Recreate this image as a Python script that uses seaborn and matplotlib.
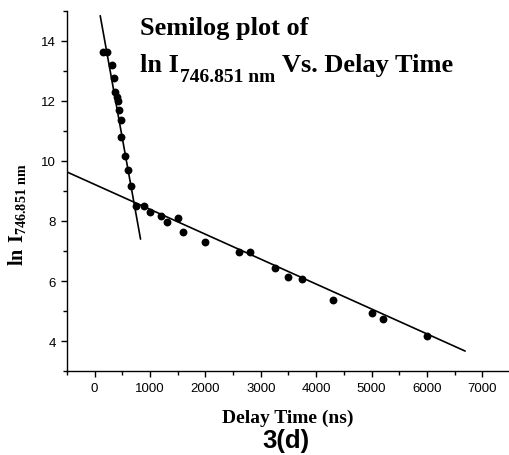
import numpy as np
import pandas as pd
import matplotlib
matplotlib.use("Agg")
import matplotlib.pyplot as plt
from matplotlib.ticker import MultipleLocator
import seaborn as sns

# Data
delay_time = [150, 230, 320, 350, 375, 400, 430, 450, 470, 480, 550, 600, 650,
              750, 900, 1000, 1200, 1300, 1500, 1600, 2000, 2600, 2800, 3250,
              3500, 3750, 4300, 5000, 5200, 6000]
ln_intensity = [13.63, 13.63, 13.18, 12.76, 12.31, 12.14, 12.01, 11.70, 11.37,
                10.81, 10.16, 9.71, 9.16, 8.51, 8.51, 8.29, 8.16, 7.98, 8.09,
                7.62, 7.31, 6.98, 6.96, 6.43, 6.14, 6.07, 5.38, 4.94, 4.72, 4.18]

# Linear fits (slope, intercept) and their drawn x-ranges
fit_slopes = [-0.01022, -0.000830]
fit_intercepts = [15.89, 9.22]
fit_x_ranges = [[103, 831], [-506, 6690]]

x_ticks = [0, 1000, 2000, 3000, 4000, 5000, 6000, 7000]
y_ticks = [4, 6, 8, 10, 12, 14]

sns.set_style("ticks")
plt.rcParams['font.family'] = ['Liberation Sans', 'DejaVu Sans']
plt.rcParams['mathtext.fontset'] = 'custom'
plt.rcParams['mathtext.bf'] = 'Liberation Serif:bold'
plt.rcParams['mathtext.rm'] = 'Liberation Serif:bold'
plt.rcParams['text.color'] = 'black'
plt.rcParams['axes.labelcolor'] = 'black'
plt.rcParams['xtick.color'] = 'black'
plt.rcParams['ytick.color'] = 'black'

W, H = 510, 456
fig = plt.figure(figsize=(W / 100, H / 100), dpi=100)
ax = fig.add_axes([0.131, 0.184, 0.869, 0.790])

df = pd.DataFrame({"t": delay_time, "lnI": ln_intensity})
sns.scatterplot(data=df, x="t", y="lnI", ax=ax, color="black", s=32,
                edgecolor="black", linewidth=0, zorder=3)

for m, b, xr in zip(fit_slopes, fit_intercepts, fit_x_ranges):
    xs = np.array(xr, dtype=float)
    ldf = pd.DataFrame({"t": xs, "lnI": m * xs + b})
    sns.lineplot(data=ldf, x="t", y="lnI", ax=ax, color="black", linewidth=1.2,
                 zorder=2)

ax.set_xlim(-500, 7500)
ax.set_ylim(3, 15)
ax.set_xticks(x_ticks)
ax.set_yticks(y_ticks)
ax.xaxis.set_minor_locator(MultipleLocator(500))
ax.yaxis.set_minor_locator(MultipleLocator(1))
ax.tick_params(which="major", direction="out", length=4.5, width=1.0,
               labelsize=9.5, colors="black")
ax.tick_params(which="minor", direction="out", length=3, width=1.0,
               colors="black")
for sp in ["top", "right"]:
    ax.spines[sp].set_visible(False)
for sp in ["left", "bottom"]:
    ax.spines[sp].set_linewidth(1.0)
    ax.spines[sp].set_color("black")

ax.set_xlabel("")
ax.set_ylabel("")
fig.text(288 / W, 1 - 418 / H, "Delay Time (ns)", fontfamily="Liberation Serif",
         fontweight="bold", fontsize=14, ha="center", va="center",
         color="black")
fig.text(17 / W, 1 - 215 / H, r"$\mathbf{ln\ I_{746.851\ nm}}$", fontsize=14.5,
         rotation=90, ha="center", va="center", color="black")

serif = dict(fontfamily="Liberation Serif", fontweight="bold", color="black")
fig.text(140 / W, 1 - 29 / H, "Semilog plot of", fontsize=19,
         ha="left", va="center", **serif)

# second title line built piecewise: "ln I", subscript, "Vs. Delay Time"
renderer = fig.canvas.get_renderer()
x0 = 140
base = 72
t1 = fig.text(x0 / W, 1 - base / H, "ln I", fontsize=19, ha="left",
              va="baseline", **serif)
bb = t1.get_window_extent(renderer)
x1 = bb.x1 + 1
t2 = fig.text(x1 / W, 1 - (base + 10) / H, "746.851 nm", fontsize=14,
              ha="left", va="baseline", **serif)
bb2 = t2.get_window_extent(renderer)
x2 = bb2.x1 + 7
fig.text(x2 / W, 1 - base / H, "Vs. Delay Time", fontsize=19, ha="left",
         va="baseline", **serif)

fig.text(286 / W, 1 - 441 / H, "3(d)", fontfamily="Liberation Sans",
         fontweight="bold", fontsize=18.5, ha="center", va="center",
         color="black")

fig.savefig("out.png", dpi=100)
